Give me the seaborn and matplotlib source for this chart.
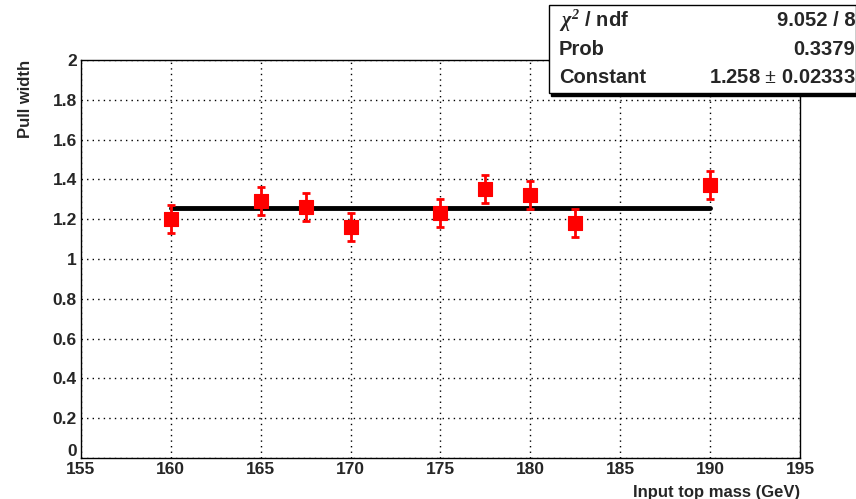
import numpy as np
import pandas as pd
import matplotlib
matplotlib.use("Agg")
import matplotlib.pyplot as plt
import seaborn as sns
from matplotlib.ticker import MultipleLocator, FuncFormatter

# Datos
masses = [160, 165, 167.5, 170, 175, 177.5, 180, 182.5, 190]
pull_width = [1.20, 1.29, 1.26, 1.16, 1.23, 1.35, 1.32, 1.18, 1.37]
pull_err = [0.07, 0.07, 0.07, 0.07, 0.07, 0.07, 0.07, 0.07, 0.07]
fit_x = [160, 190]
fit_const = 1.258
stats_labels = ["$\\chi^2$ / ndf", "Prob", "Constant"]
stats_values = ["9.052 / 8", "0.3379", "1.258 $\\pm$ 0.02333"]

df = pd.DataFrame({"mass": masses, "width": pull_width, "err": pull_err})
fit = pd.DataFrame({"mass": fit_x, "width": [fit_const] * len(fit_x)})

sns.set_style("white")
plt.rcParams["font.family"] = ["Liberation Sans", "DejaVu Sans"]
plt.rcParams["font.weight"] = "bold"
plt.rcParams["mathtext.fontset"] = "custom"
plt.rcParams["mathtext.rm"] = "Liberation Serif:italic"
plt.rcParams["mathtext.it"] = "Liberation Serif:italic"

fig = plt.figure(figsize=(8.56, 4.99), dpi=100)
ax = fig.add_axes([0.0946, 0.0822, 0.84, 0.7976])

# Ajuste constante
sns.lineplot(data=fit, x="mass", y="width", color="black", linewidth=3.5, ax=ax, zorder=2)

# Barras de error y puntos
ax.errorbar(df["mass"], df["width"], yerr=df["err"], fmt="none", ecolor="red",
            elinewidth=2, capsize=3, capthick=2, zorder=3)
sns.scatterplot(data=df, x="mass", y="width", marker="s", color="red", s=100,
                edgecolor="red", ax=ax, zorder=4)

ax.set_xlim(155, 195)
ax.set_ylim(0, 2)
ax.xaxis.set_major_locator(MultipleLocator(5))
ax.xaxis.set_minor_locator(MultipleLocator(1))
ax.yaxis.set_major_locator(MultipleLocator(0.2))
ax.yaxis.set_minor_locator(MultipleLocator(0.04))
ax.xaxis.set_major_formatter(FuncFormatter(lambda v, p: f"{v:.0f}"))
# el "0" del eje y se pone aparte, apoyado sobre el eje, para no pisar el "155"
ax.yaxis.set_major_formatter(FuncFormatter(lambda v, p: "" if abs(v) < 1e-9 else f"{v:g}"))
ax.tick_params(which="major", direction="in", length=9, width=1, labelsize=12.5,
               top=False, right=False, pad=3)
ax.tick_params(which="minor", direction="in", length=5, width=1, top=False, right=False)
ax.annotate("0", xy=(0, 0), xycoords="axes fraction", xytext=(-3, -1),
            textcoords="offset points", ha="right", va="bottom",
            fontsize=12.5, fontweight="bold")

ax.grid(True, which="major", linestyle=(0, (1, 3)), color="black", linewidth=1)
for sp in ax.spines.values():
    sp.set_color("black")
    sp.set_linewidth(1)

ax.set_xlabel("Input top mass (GeV)", fontsize=12, fontweight="bold", loc="right", labelpad=6)
ax.set_ylabel("Pull width", fontsize=12, fontweight="bold", loc="top", labelpad=14)

# Caja de estadisticas
bx0, by0, bw, bh = 0.641, 0.814, 0.359, 0.176
shadow = plt.Rectangle((bx0 + 0.003, by0 - 0.006), bw, bh, transform=fig.transFigure,
                       facecolor="black", edgecolor="black", zorder=9)
box = plt.Rectangle((bx0, by0), bw, bh, transform=fig.transFigure,
                    facecolor="white", edgecolor="black", linewidth=1, zorder=10)
fig.add_artist(shadow)
fig.add_artist(box)
for i, (lab, val) in enumerate(zip(stats_labels, stats_values)):
    yy = by0 + bh - 0.032 - i * 0.057
    fig.text(bx0 + 0.012, yy, lab, fontsize=14.5, fontweight="bold", va="center",
             ha="left", zorder=11)
    fig.text(0.999, yy, val, fontsize=14.5, fontweight="bold", va="center",
             ha="right", zorder=11)

fig.savefig("out.png", dpi=100)
